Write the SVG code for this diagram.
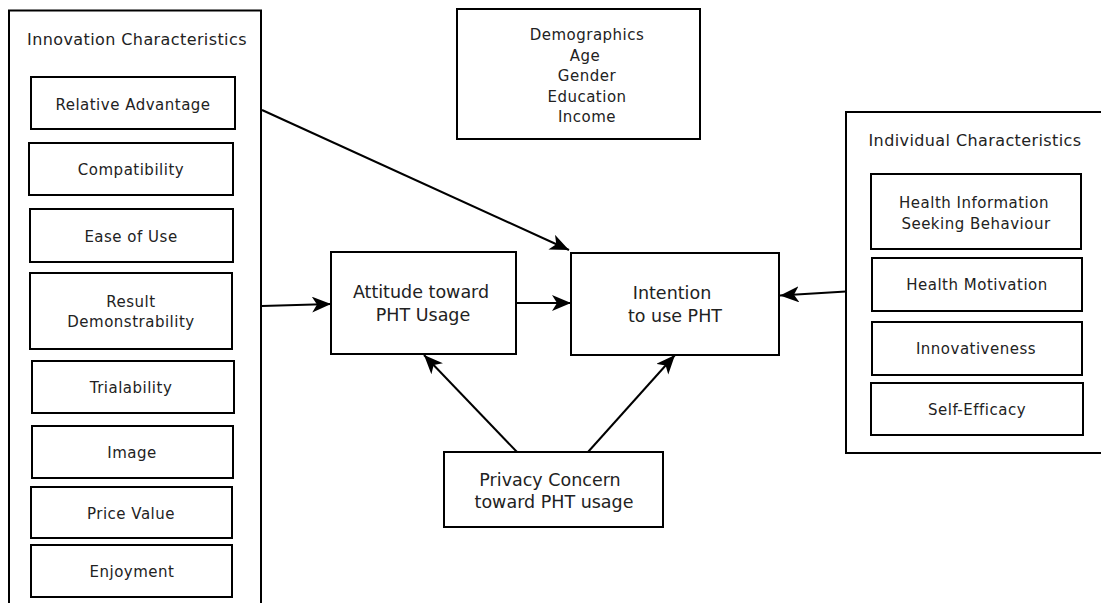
<svg xmlns="http://www.w3.org/2000/svg" width="1101" height="603" viewBox="0 0 1101 603">
<defs>
<style>
rect{fill:#fff;stroke:#000;stroke-width:2}
text{font-family:"DejaVu Sans",Verdana,sans-serif;fill:#222;text-anchor:middle}
.t{font-size:16px;letter-spacing:0.4px}
.s{font-size:15px;letter-spacing:0.5px}
.m{font-size:17.5px}
.c line{stroke:#000;stroke-width:2;marker-end:url(#ah)}
</style>
<marker id="ah" markerUnits="userSpaceOnUse" markerWidth="20" markerHeight="17" refX="19" refY="8" orient="auto" viewBox="0 0 20 17">
<path d="M0,0 L19,8 L0,16 L5,8 Z" fill="#000"/>
</marker>
</defs>
<rect width="1101" height="603" style="fill:#fff;stroke:none"/>
<g id="innovation">
<rect x="9" y="10.5" width="252" height="620"/>
<text class="t" x="137" y="45">Innovation Characteristics</text>
</g>
<g id="relative-advantage"><rect x="31" y="77" width="204" height="52"/><text class="s" x="133" y="110">Relative Advantage</text></g>
<g id="compatibility"><rect x="29" y="143" width="204" height="52"/><text class="s" x="131" y="175">Compatibility</text></g>
<g id="ease-of-use"><rect x="30" y="209" width="203" height="53"/><text class="s" x="131" y="242">Ease of Use</text></g>
<g id="result-demonstrability"><rect x="30" y="273" width="202" height="76"/><text class="s" x="131" y="307">Result</text><text class="s" x="131" y="327">Demonstrability</text></g>
<g id="trialability"><rect x="32" y="361" width="202" height="52"/><text class="s" x="131" y="393">Trialability</text></g>
<g id="image"><rect x="32" y="426" width="201" height="52"/><text class="s" x="132" y="458">Image</text></g>
<g id="price-value"><rect x="31" y="487" width="201" height="51"/><text class="s" x="131" y="519">Price Value</text></g>
<g id="enjoyment"><rect x="31" y="545" width="201" height="52"/><text class="s" x="132" y="577">Enjoyment</text></g>
<g id="demographics">
<rect x="457" y="9" width="243" height="130"/>
<text class="s" x="587" y="40">Demographics</text>
<text class="s" x="585" y="60.5">Age</text>
<text class="s" x="587" y="81">Gender</text>
<text class="s" x="587" y="101.5">Education</text>
<text class="s" x="587" y="122">Income</text>
</g>
<g id="attitude"><rect x="331" y="252" width="185" height="102"/><text class="m" x="421" y="298">Attitude toward</text><text class="m" x="423" y="321">PHT Usage</text></g>
<g id="intention"><rect x="571" y="253" width="208" height="102"/><text class="m" x="672" y="299">Intention</text><text class="m" x="675" y="322">to use PHT</text></g>
<g id="privacy"><rect x="444" y="452" width="219" height="75"/><text class="m" x="550" y="486">Privacy Concern</text><text class="m" x="554" y="508">toward PHT usage</text></g>
<g id="individual">
<rect x="846" y="112" width="300" height="341"/>
<text class="t" x="975" y="146">Individual Characteristics</text>
</g>
<g id="health-info"><rect x="871" y="174" width="210" height="75"/><text class="s" x="974" y="208">Health Information</text><text class="s" x="976" y="229">Seeking Behaviour</text></g>
<g id="health-motivation"><rect x="872" y="258" width="210" height="53"/><text class="s" x="977" y="290">Health Motivation</text></g>
<g id="innovativeness"><rect x="872" y="322" width="210" height="53"/><text class="s" x="976" y="354">Innovativeness</text></g>
<g id="self-efficacy"><rect x="871" y="383" width="212" height="52"/><text class="s" x="977" y="415">Self-Efficacy</text></g>
<g id="connectors" class="c">
<line x1="262" y1="110" x2="569" y2="250"/>
<line x1="262" y1="306" x2="331" y2="304"/>
<line x1="517" y1="303" x2="571" y2="303"/>
<line x1="846" y1="291.5" x2="780" y2="295.5"/>
<line x1="517" y1="452" x2="424" y2="355"/>
<line x1="588" y1="452" x2="675" y2="355"/>
</g>
</svg>
